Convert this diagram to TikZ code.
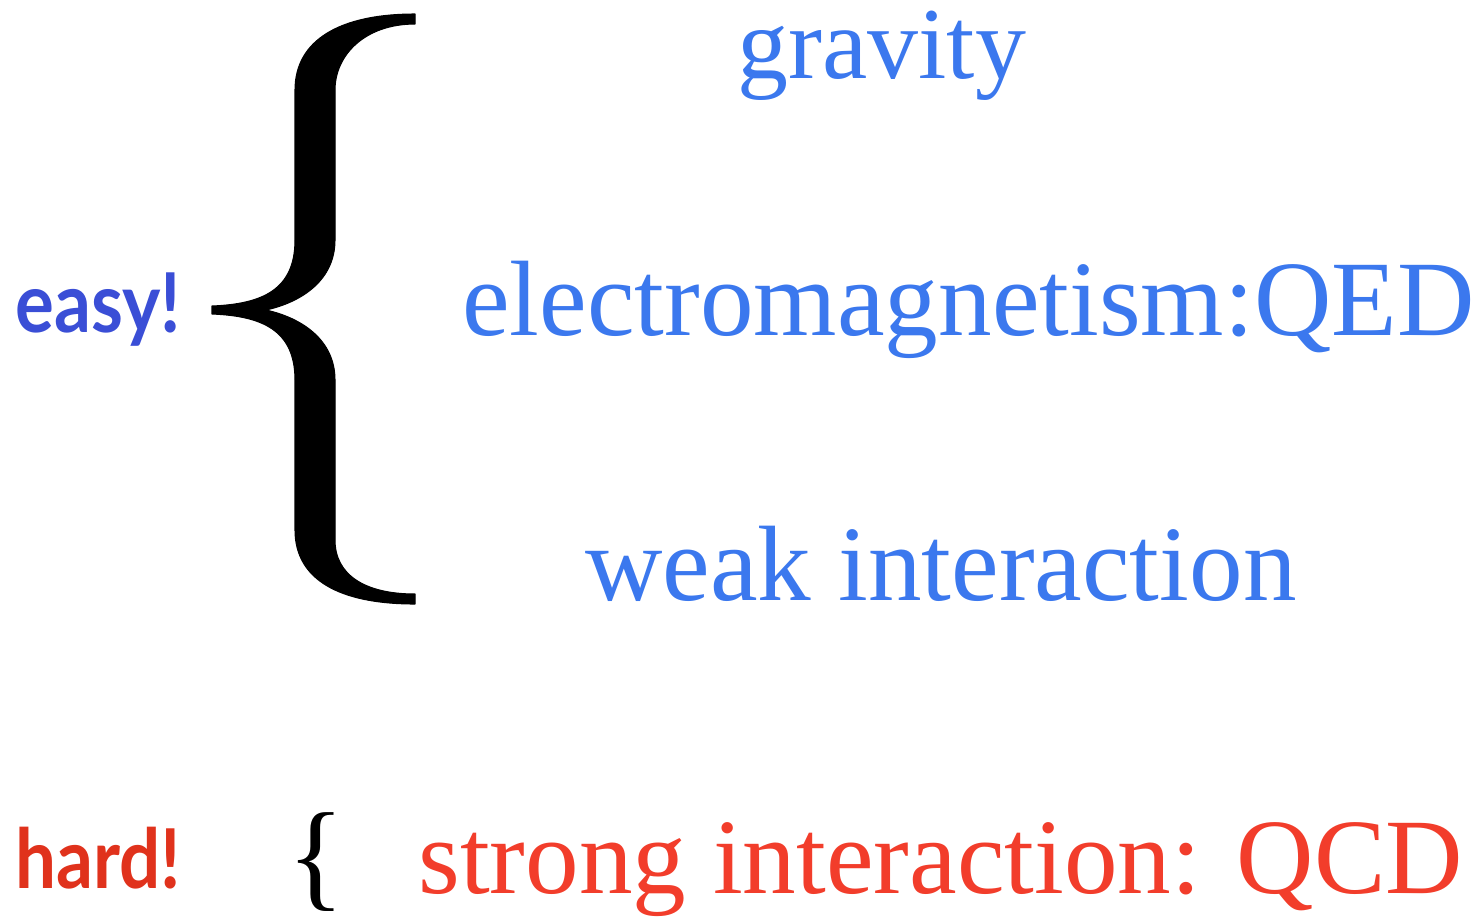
\documentclass[tikz,border=0pt]{standalone}
\usepackage{fontspec}
\setmainfont{Liberation Serif}
\newfontfamily\tagfont[FakeStretch=0.88]{Lato}
\usetikzlibrary{positioning}
\definecolor{forceblue}{HTML}{3B78EE}
\definecolor{easyblue}{HTML}{3A4ED6}
\definecolor{forcered}{HTML}{F23D2B}
\definecolor{hardred}{HTML}{E0321C}

\begin{document}
\begin{tikzpicture}[
  x=0.02cm, y=-0.02cm,
  force/.style={inner sep=0, anchor=base west, text=#1, font=\fontsize{61}{61}\selectfont},
  verdict/.style={inner sep=0, anchor=base west, text=#1, font=\tagfont\bfseries\fontsize{47}{47}\selectfont},
  bracefill/.style={fill=black, draw=black, line width=0.6pt, line join=round}
]
  \useasboundingbox (0,0) rectangle (1477,921);

  % the three easy forces
  \node[force=forceblue, font=\fontsize{58}{58}\selectfont] (grav) at (737,78) {gravity};
  \node[force=forceblue] (qed) at (462,335) {electromagnetism:QED};
  \node[force=forceblue] (weak) at (585,600) {weak interaction};
  \node[verdict=easyblue] (easy) at (15,332) {easy!};

  % big brace
  \path[bracefill] (415,14) .. controls (340,14) and (295,40) .. (295,90)
    -- (295,240) .. controls (295,290) and (262,304) .. (212,306)
    -- (212,314) .. controls (262,316) and (295,330) .. (295,380)
    -- (295,530) .. controls (295,580) and (340,604) .. (415,604)
    -- (415,594) .. controls (365,594) and (335,575) .. (335,540)
    -- (335,380) .. controls (335,340) and (302,318) .. (266,310)
    .. controls (302,302) and (335,280) .. (335,240)
    -- (335,90) .. controls (335,55) and (365,24) .. (415,24) -- cycle;

  % the hard one
  \node[verdict=hardred] (hard) at (15,888) {hard!};
  \node[inner sep=0, font=\fontsize{68}{68}\selectfont] (smallbrace) at (316,862) {\{};
  \node[force=forcered] (qcd) at (418,893) {strong interaction: QCD};
\end{tikzpicture}
\end{document}
